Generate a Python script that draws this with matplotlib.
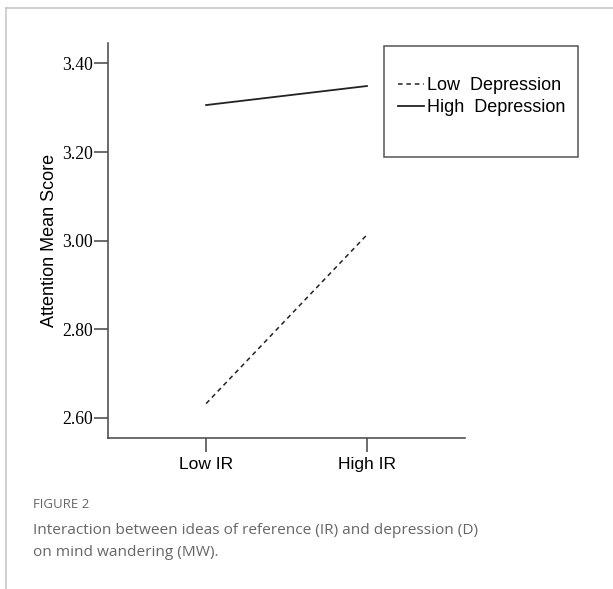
import matplotlib.pyplot as plt
from matplotlib.lines import Line2D
from matplotlib.patches import Rectangle

# interaction means: attention score by IR level for each depression group
ir_levels = ["Low IR", "High IR"]
low_depression = [2.632, 3.013]
high_depression = [3.306, 3.349]
y_ticks = [2.60, 2.80, 3.00, 3.20, 3.40]

W, H = 613, 589
fig = plt.figure(figsize=(W / 100, H / 100), dpi=100)
fig.patch.set_facecolor("white")

# thin grey frame around the panel
frame_col = "#c8c8c8"
fig.add_artist(Line2D([6 / W, 6 / W], [0, 1 - 8 / H], color=frame_col, lw=1.2))
fig.add_artist(Line2D([6 / W, 1], [1 - 8 / H, 1 - 8 / H], color=frame_col, lw=1.2))

ax = fig.add_axes([0.1762, 0.2569, 0.5824, 0.670])
x = range(len(ir_levels))
dash = (0, (3, 2.5))
ax.plot(x, low_depression, color="#222222", lw=1.1, ls=dash)
ax.plot(x, high_depression, color="#222222", lw=1.3)

ax.set_xlim(-0.61, 1.61)
ax.set_ylim(2.555, 3.446)
ax.set_xticks(list(x))
ax.set_xticklabels(ir_levels, fontsize=12.5, family="Liberation Sans")
ax.set_yticks(y_ticks)
ax.set_yticklabels([f"{v:.2f}" for v in y_ticks], fontsize=12.7,
                   family="Liberation Serif")
ax.tick_params(axis="both", direction="out", length=10, width=1.1, color="#444444")
ax.tick_params(axis="x", pad=4)
ax.tick_params(axis="y", pad=1)
for side in ("top", "right"):
    ax.spines[side].set_visible(False)
for side in ("left", "bottom"):
    ax.spines[side].set_color("#444444")
    ax.spines[side].set_linewidth(1.1)
ax.set_ylabel("Attention Mean Score", fontsize=13, family="Liberation Sans", labelpad=3)

# legend box drawn in figure space
fig.add_artist(Rectangle((384 / W, 1 - 157 / H), 194 / W, 111 / H,
                         transform=fig.transFigure, fill=False,
                         edgecolor="#555555", lw=1.1))
handles = [Line2D([], [], color="#222222", lw=1.1, ls=dash),
           Line2D([], [], color="#222222", lw=1.3)]
leg = fig.legend(handles, ["Low  Depression", "High  Depression"],
                 loc="upper left", bbox_to_anchor=(398 / W, 1 - 77 / H),
                 prop={"family": "Liberation Sans", "size": 13},
                 frameon=False, handlelength=1.45, handletextpad=0.15,
                 labelspacing=0.28, borderpad=0, borderaxespad=0)

# caption
fig.text(33 / W, 1 - 505 / H, "FIGURE 2", fontsize=9.5, color="#666666",
         family="Open Sans", va="center")
fig.text(33 / W, 1 - 530 / H,
         "Interaction between ideas of reference (IR) and depression (D)",
         fontsize=11.1, color="#666666", family="Open Sans", va="center")
fig.text(33 / W, 1 - 553 / H, "on mind wandering (MW).",
         fontsize=11.1, color="#666666", family="Open Sans", va="center")

fig.savefig("out.png", dpi=100)
